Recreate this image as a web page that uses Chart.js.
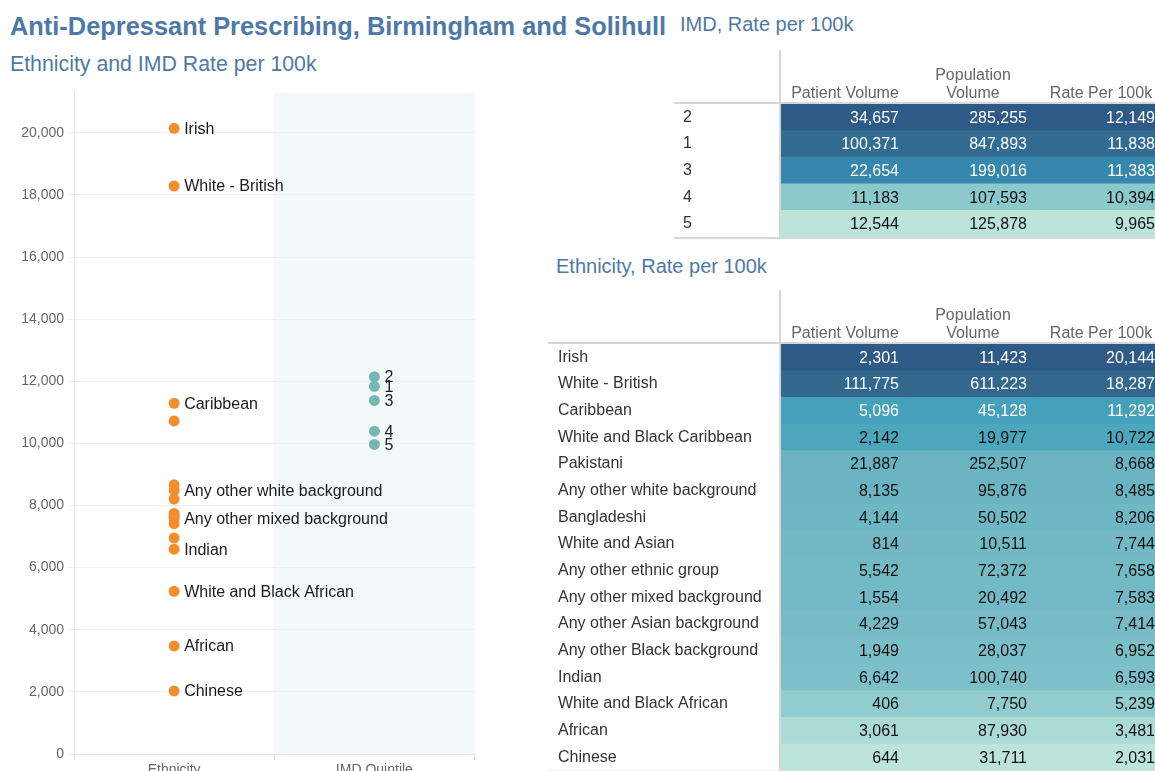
<!DOCTYPE html>
<html>
<head>
<meta charset="utf-8">
<title>Anti-Depressant Prescribing, Birmingham and Solihull</title>
<script src="https://cdn.jsdelivr.net/npm/chart.js@4.4.1/dist/chart.umd.min.js"></script>
<style>
  html, body { margin: 0; padding: 0; overflow: hidden; background: #fff; }
  body { position: relative; width: 1155px; height: 771px; font-family: "Liberation Sans", Arial, sans-serif; }
  .t { position: absolute; white-space: nowrap; line-height: 1; color: #4e79a7; }
  canvas { position: absolute; }
</style>
</head>
<body>
<div class="t" style="left:10px;top:14px;font-size:25.4px;font-weight:bold">Anti-Depressant Prescribing, Birmingham and Solihull</div>
<div class="t" style="left:680px;top:14px;font-size:20px">IMD, Rate per 100k</div>
<div class="t" style="left:10px;top:54px;font-size:21.3px">Ethnicity and IMD Rate per 100k</div>
<div class="t" style="left:556px;top:256px;font-size:20px">Ethnicity, Rate per 100k</div>

<canvas id="scatterChart" width="480" height="720" style="left:0;top:80px"></canvas>
<canvas id="imdTable" width="500" height="199" style="left:674px;top:50px"></canvas>
<canvas id="ethTable" width="626" height="493" style="left:548px;top:290px"></canvas>

<script>
// IMD quintiles, in the order the table lists them
const imdQuintiles = ['2', '1', '3', '4', '5'];
const imdPatients = [34657, 100371, 22654, 11183, 12544];
const imdPopulation = [285255, 847893, 199016, 107593, 125878];
const imdRates = [12149, 11838, 11383, 10394, 9965];

// ethnicity groups, sorted by rate
const ethnicities = ['Irish', 'White - British', 'Caribbean', 'White and Black Caribbean', 'Pakistani',
  'Any other white background', 'Bangladeshi', 'White and Asian', 'Any other ethnic group',
  'Any other mixed background', 'Any other Asian background', 'Any other Black background',
  'Indian', 'White and Black African', 'African', 'Chinese'];
const ethPatients = [2301, 111775, 5096, 2142, 21887, 8135, 4144, 814, 5542, 1554, 4229, 1949, 6642, 406, 3061, 644];
const ethPopulation = [11423, 611223, 45128, 19977, 252507, 95876, 50502, 10511, 72372, 20492, 57043, 28037, 100740, 7750, 87930, 31711];
const ethRates = [20144, 18287, 11292, 10722, 8668, 8485, 8206, 7744, 7658, 7583, 7414, 6952, 6593, 5239, 3481, 2031];

// only these get a text label on the dot plot
const labelledEthnicities = ['Irish', 'White - British', 'Caribbean', 'Any other white background',
  'Any other mixed background', 'Indian', 'White and Black African', 'African', 'Chinese'];

const dotColumns = ['Ethnicity', 'IMD Quintile'];
const rateTicks = [0, 2000, 4000, 6000, 8000, 10000, 12000, 14000, 16000, 18000, 20000];
const columnHeaders = [['Patient Volume'], ['Population', 'Volume'], ['Rate Per 100k']];

const fontFamily = '"Liberation Sans", Arial, sans-serif';
Chart.defaults.font.family = fontFamily;

// blue-teal sequential colour ramp
const ramp = [[0, '#bde4d9'], [0.08, '#acdad5'], [0.17, '#93cdcf'], [0.25, '#7ec0c9'], [0.37, '#69b4c2'],
  [0.5, '#47a3bb'], [0.63, '#358aaf'], [0.87, '#336a90'], [1, '#2e5a87']];

function hexToRgb(h) {
  return [1, 3, 5].map(i => parseInt(h.substr(i, 2), 16));
}

function rampColour(t) {
  for (let i = 1; i < ramp.length; i++) {
    if (t <= ramp[i][0]) {
      const [t0, c0] = ramp[i - 1];
      const [t1, c1] = ramp[i];
      const f = (t - t0) / (t1 - t0);
      const a = hexToRgb(c0), b = hexToRgb(c1);
      const rgb = a.map((v, k) => Math.round(v + (b[k] - v) * f));
      return 'rgb(' + rgb.join(',') + ')';
    }
  }
  return ramp[ramp.length - 1][1];
}

// shade the IMD column behind the dots
const imdPanel = {
  id: 'imdPanel',
  beforeDraw(chart) {
    const { ctx, chartArea, scales: { x } } = chart;
    const left = (x.getPixelForValue(0) + x.getPixelForValue(1)) / 2;
    ctx.save();
    ctx.fillStyle = '#f3f8f8';
    ctx.fillRect(left, chartArea.top, chartArea.right - left, chartArea.bottom - chartArea.top);
    ctx.restore();
  }
};

const pointLabels = {
  id: 'pointLabels',
  afterDatasetsDraw(chart) {
    const ctx = chart.ctx;
    ctx.save();
    ctx.font = '16px ' + fontFamily;
    ctx.fillStyle = '#1a1a1a';
    ctx.textBaseline = 'middle';
    chart.data.datasets.forEach((ds, i) => {
      chart.getDatasetMeta(i).data.forEach((pt, j) => {
        const lbl = ds.pointLabels[j];
        if (lbl) ctx.fillText(lbl, pt.x + 10, pt.y + 1);
      });
    });
    ctx.restore();
  }
};

new Chart(document.getElementById('scatterChart'), {
  type: 'scatter',
  data: {
    labels: dotColumns,
    datasets: [
      {
        data: ethRates.map(r => ({ x: dotColumns[0], y: r })),
        backgroundColor: '#f28e2b',
        pointLabels: ethnicities.map(n => labelledEthnicities.includes(n) ? n : '')
      },
      {
        data: imdRates.map(r => ({ x: dotColumns[1], y: r })),
        backgroundColor: '#76b7b2',
        pointLabels: imdQuintiles
      }
    ]
  },
  options: {
    responsive: false,
    animation: false,
    layout: { padding: { top: 11, right: 5 } },
    elements: { point: { radius: 5.5, hoverRadius: 5.5, borderWidth: 0, hoverBorderWidth: 0 } },
    plugins: { legend: { display: false }, tooltip: { enabled: false } },
    scales: {
      x: {
        type: 'category',
        offset: true,
        grid: { offset: true, drawOnChartArea: false, tickLength: 6, color: '#dddddd' },
        border: { color: '#e4e4e4' },
        ticks: { color: '#666', font: { size: 14 }, padding: 2 },
        afterFit(s) { s.height = 46; }
      },
      y: {
        min: 0,
        max: 21300,
        grid: { color: '#efefef', tickLength: 6 },
        border: { color: '#e8e8e8' },
        ticks: { color: '#666', font: { size: 14 }, padding: 4 },
        afterBuildTicks(s) { s.ticks = rateTicks.map(v => ({ value: v })); },
        afterFit(s) { s.width = 74; }
      }
    }
  },
  plugins: [imdPanel, pointLabels]
});

// text, headers and rules for the heat tables
const tablePlugin = {
  id: 'heatTable',
  afterDatasetsDraw(chart, args, opts) {
    const { ctx, chartArea, scales: { x, y } } = chart;
    ctx.save();
    ctx.font = '16px ' + fontFamily;
    ctx.textBaseline = 'middle';

    ctx.fillStyle = '#666';
    ctx.textAlign = 'center';
    columnHeaders.forEach((lines, j) => {
      const cx = (x.getPixelForValue(j) + x.getPixelForValue(j + 1)) / 2;
      lines.slice().reverse().forEach((line, k) => {
        ctx.fillText(line, cx, chartArea.top - 10 - k * 18.5);
      });
    });

    ctx.textAlign = 'right';
    opts.columns.forEach((col, j) => {
      const rx = x.getPixelForValue(j + 1) - 10;
      col.forEach((v, i) => {
        ctx.fillStyle = opts.shade[i] >= 0.5 ? '#ffffff' : '#111111';
        ctx.fillText(v.toLocaleString('en-GB'), rx, y.getPixelForValue(i) + 1);
      });
    });

    ctx.fillStyle = '#d6d6d6';
    ctx.fillRect(0, chartArea.top - 2, chart.width, 2);
    ctx.fillRect(0, chartArea.bottom, chart.width, 2);
    ctx.fillRect(chartArea.left - 2, 0, 2, chartArea.bottom);
    ctx.restore();
  }
};

function makeTable(id, rows, columns, rates, padLeft, labelWidth, padBottom) {
  const lo = Math.min(...rates), hi = Math.max(...rates);
  const shade = rates.map(r => (r - lo) / (hi - lo));
  const fills = shade.map(rampColour);
  return new Chart(document.getElementById(id), {
    type: 'bar',
    data: {
      labels: rows,
      datasets: columns.map(() => ({
        data: rows.map(() => 1),
        backgroundColor: fills,
        borderWidth: 0,
        barPercentage: 1,
        categoryPercentage: 1
      }))
    },
    options: {
      indexAxis: 'y',
      responsive: false,
      animation: false,
      layout: { padding: { top: 54, bottom: padBottom, left: padLeft, right: 9 } },
      plugins: {
        legend: { display: false },
        tooltip: { enabled: false },
        heatTable: { columns: columns, shade: shade }
      },
      scales: {
        x: { display: false, stacked: true, min: 0, max: 3 },
        y: {
          stacked: true,
          grid: { display: false },
          border: { display: false },
          ticks: { crossAlign: 'far', color: '#333', font: { size: 16 }, autoSkip: false, padding: 0 },
          afterFit(s) { s.width = labelWidth; }
        }
      }
    },
    plugins: [tablePlugin]
  });
}

makeTable('imdTable', imdQuintiles, [imdPatients, imdPopulation, imdRates], imdRates, 9, 98, 12);
makeTable('ethTable', ethnicities, [ethPatients, ethPopulation, ethRates], ethRates, 10, 223, 12.3);
</script>
</body>
</html>
